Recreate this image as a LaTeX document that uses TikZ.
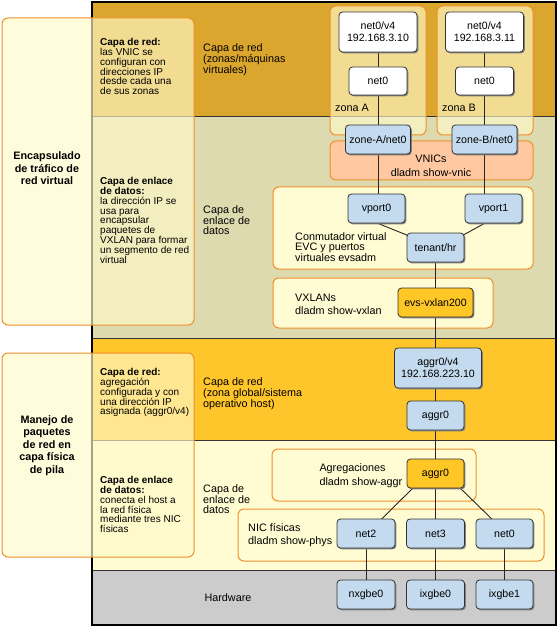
\documentclass[tikz,border=0pt]{standalone}
\usepackage{fontspec}
\setmainfont{Liberation Sans}
\usetikzlibrary{shadows,calc}
\definecolor{bandA}{HTML}{DBA62D}
\definecolor{bandB}{HTML}{DEDAB0}
\definecolor{bandC}{HTML}{FEC62A}
\definecolor{bandD}{HTML}{FFFCD3}
\definecolor{bandE}{HTML}{CCCCCC}
\definecolor{orngC}{HTML}{EF8F2A}
\definecolor{boxY}{HTML}{FFFCD3}
\definecolor{ovY}{HTML}{FFFAC8}
\definecolor{vnicC}{HTML}{FFC8A0}
\definecolor{nblue}{HTML}{C4DBEF}
\definecolor{ngold}{HTML}{FFC726}
\newcommand\rsNode{\fontsize{10.6}{11.8}\selectfont}
\newcommand\rsLab{\fontsize{10.8}{10}\selectfont}
\newcommand\rsSide{\fontsize{10}{9.8}\selectfont}
\newcommand\rsHead{\fontsize{10.8}{12.5}\selectfont\bfseries}
\pgfdeclarelayer{bg}
\pgfdeclarelayer{edges}
\pgfsetlayers{bg,edges,main}
\tikzset{
  nd/.style={draw=black!80, line width=0.8pt, rounded corners=3.5pt, inner sep=0pt,
    align=center, font=\rsNode,
    drop shadow={shadow xshift=1.3pt, shadow yshift=-1.3pt, fill=black!50, opacity=1}},
  bl/.style={nd, fill=nblue, minimum width=57pt, minimum height=29pt},
  wh/.style={nd, fill=white},
  gd/.style={nd, fill=ngold, minimum height=29pt},
  ybox/.style={draw=orngC, line width=1pt, rounded corners=6pt, fill=boxY},
  ov/.style={draw=orngC, line width=1pt, rounded corners=6pt, fill=ovY, fill opacity=0.65},
  sep/.style={draw=black!80, line width=1pt},
  conn/.style={draw=black!85, line width=0.9pt},
  lbl/.style={anchor=north west, inner sep=0pt, align=left, font=\rsLab},
  lblw/.style={anchor=west, inner sep=0pt, font=\rsLab},
  side/.style={anchor=north west, inner sep=0pt, align=left, font=\rsSide},
  head/.style={anchor=north, inner sep=0pt, align=center, font=\rsHead}
}
\begin{document}
\begin{tikzpicture}[x=1pt,y=-1pt]
\useasboundingbox (0,0) rectangle (558,628);
\begin{pgfonlayer}{bg}
  \fill[bandA] (92,2) rectangle (556,117);
  \fill[bandB] (92,117) rectangle (556,338);
  \fill[bandC] (92,338) rectangle (556,440);
  \fill[bandD] (92,440) rectangle (556,570);
  \fill[bandE] (92,570) rectangle (556,625);
  \draw[sep] (92,117) -- (556,117);
  \draw[sep] (92,338) -- (556,338);
  \draw[sep] (92,440) -- (556,440);
  \draw[sep] (92,570) -- (556,570);
  \draw[line width=2pt] (92,2) rectangle (556,625);
  % zone boxes
  \draw[ov] (330,6) rectangle (426,135);
  \draw[ov] (437,6) rectangle (533,135);
  % VNIC box
  \draw[draw=orngC, line width=1pt, rounded corners=6pt, fill=vnicC] (330,141) rectangle (533,180);
  % switch, vxlan, aggr, nic boxes
  \draw[ybox] (273,187) rectangle (533,269);
  \draw[ybox] (273,278) rectangle (493,328);
  \draw[ybox] (272,449) rectangle (476,501);
  \draw[ybox] (238,509) rectangle (544,561);
\end{pgfonlayer}

% nodes
\node[wh, minimum width=78pt, minimum height=40pt] (netA4) at (378,32) {net0/v4\\192.168.3.10};
\node[wh, minimum width=58pt, minimum height=28pt] (netA) at (378,81) {net0};
\node[wh, minimum width=78pt, minimum height=40pt] (netB4) at (484.5,32) {net0/v4\\192.168.3.11};
\node[wh, minimum width=58pt, minimum height=28pt] (netB) at (484.5,81) {net0};
\node[bl, minimum width=65pt] (zA) at (378,139.5) {zone-A/net0};
\node[bl, minimum width=65pt] (zB) at (484.5,139.5) {zone-B/net0};
\node[bl] (vp0) at (376.5,208.5) {vport0};
\node[bl] (vp1) at (493.5,208.5) {vport1};
\node[bl] (ten) at (435.5,247.5) {tenant/hr};
\node[gd, minimum width=75pt] (evs) at (435.5,302.5) {evs-vxlan200};
\node[bl, minimum width=87pt, minimum height=40pt] (ag4) at (438,368) {aggr0/v4\\192.168.223.10};
\node[bl] (ag) at (435.5,415.5) {aggr0};
\node[gd, minimum width=57pt] (agg) at (435.5,473.5) {aggr0};
\node[bl, minimum width=58pt] (n2) at (366,533.5) {net2};
\node[bl, minimum width=58pt] (n3) at (435.5,533.5) {net3};
\node[bl] (n0) at (504.5,533.5) {net0};
\node[bl, minimum width=58pt] (nx) at (366,594.5) {nxgbe0};
\node[bl, minimum width=58pt] (ix0) at (435.5,594.5) {ixgbe0};
\node[bl] (ix1) at (504.5,594.5) {ixgbe1};

% connectors
\begin{pgfonlayer}{edges}
  \draw[conn] (netA4) -- (netA);
  \draw[conn] (netA) -- (zA);
  \draw[conn] (zA) -- (zA |- vp0);
  \draw[conn] (netB4) -- (netB);
  \draw[conn] (netB) -- (zB);
  \draw[conn] (zB) -- (zB |- vp1);
  \draw[conn] (zA |- vp0.south) -- ($(ten.north west)+(4,4)$);
  \draw[conn] (zB |- vp1.south) -- ($(ten.north east)+(-4,4)$);
  \draw[conn] (ten) -- (ten |- ag4);
  \draw[conn] (ag4.south -| ag) -- (ag);
  \draw[conn] (ag) -- (agg);
  \draw[conn] (agg) -- (n3);
  \draw[conn] ($(agg.south west)+(8,-2)$) -- ($(n2.north)+(13,3)$);
  \draw[conn] ($(agg.south east)+(-6,-2)$) -- ($(n0.north)+(-10,3)$);
  \draw[conn] (n2) -- (nx);
  \draw[conn] (n3) -- (ix0);
  \draw[conn] (n0) -- (ix1);
\end{pgfonlayer}

% labels inside the frame
\node[lbl] (l1) at (203,43.4) {Capa de red\\(zonas/máquinas\\virtuales)};
\node[lbl] (l2) at (203,205.1) {Capa de\\enlace de\\datos};
\node[lbl] (l3) at (203,377.1) {Capa de red\\(zona global/sistema\\operativo host)};
\node[lbl] (l4) at (203,484.1) {Capa de\\enlace de\\datos};
\node[font=\rsLab, inner sep=0pt] (hw) at (228,598) {Hardware};
\node[lblw] (zna) at (335,108.3) {zona A};
\node[lblw] (znb) at (442,108.3) {zona B};
\node[font=\rsLab, inner sep=0pt] (vn1) at (431,158.3) {VNICs};
\node[font=\rsLab, inner sep=0pt] (vn2) at (431,172.3) {dladm show-vnic};
\node[lbl] (cm) at (295,232.4) {Conmutador virtual\\EVC y puertos\\virtuales evsadm};
\node[lblw] (vx1) at (295,297.7) {VXLANs};
\node[lblw] (vx2) at (295,310.7) {dladm show-vxlan};
\node[lblw] (ag1) at (319.3,469) {Agregaciones};
\node[lblw] (ag2) at (319.3,482.3) {dladm show-aggr};
\node[lblw] (nc1) at (248,527.3) {NIC físicas};
\node[lblw] (nc2) at (248,541.7) {dladm show-phys};

% left overlays
\draw[ov] (2,18) rectangle (194,325);
\draw[ov] (2,353) rectangle (194,557);
\node[head] (h1) at (47,151.8) {Encapsulado\\de tráfico de\\red virtual};
\node[head] (h2) at (47,415.1) {Manejo de\\paquetes\\de red en\\capa física\\de pila};
\node[side] (s1) at (100,38.2) {\textbf{Capa de red:}\\las VNIC se\\configuran con\\direcciones IP\\desde cada una\\de sus zonas};
\node[side] (s2) at (100,177.2) {\textbf{Capa de enlace}\\\textbf{de datos:}\\la dirección IP se\\usa para\\encapsular\\paquetes de\\VXLAN para formar\\un segmento de red\\virtual};
\node[side] (s3) at (100,368.2) {\textbf{Capa de red:}\\agregación\\configurada y con\\una dirección IP\\asignada (aggr0/v4)};
\node[side] (s4) at (100,476.2) {\textbf{Capa de enlace}\\\textbf{de datos:}\\conecta el host a\\la red física\\mediante tres NIC\\físicas};
\end{tikzpicture}
\end{document}
